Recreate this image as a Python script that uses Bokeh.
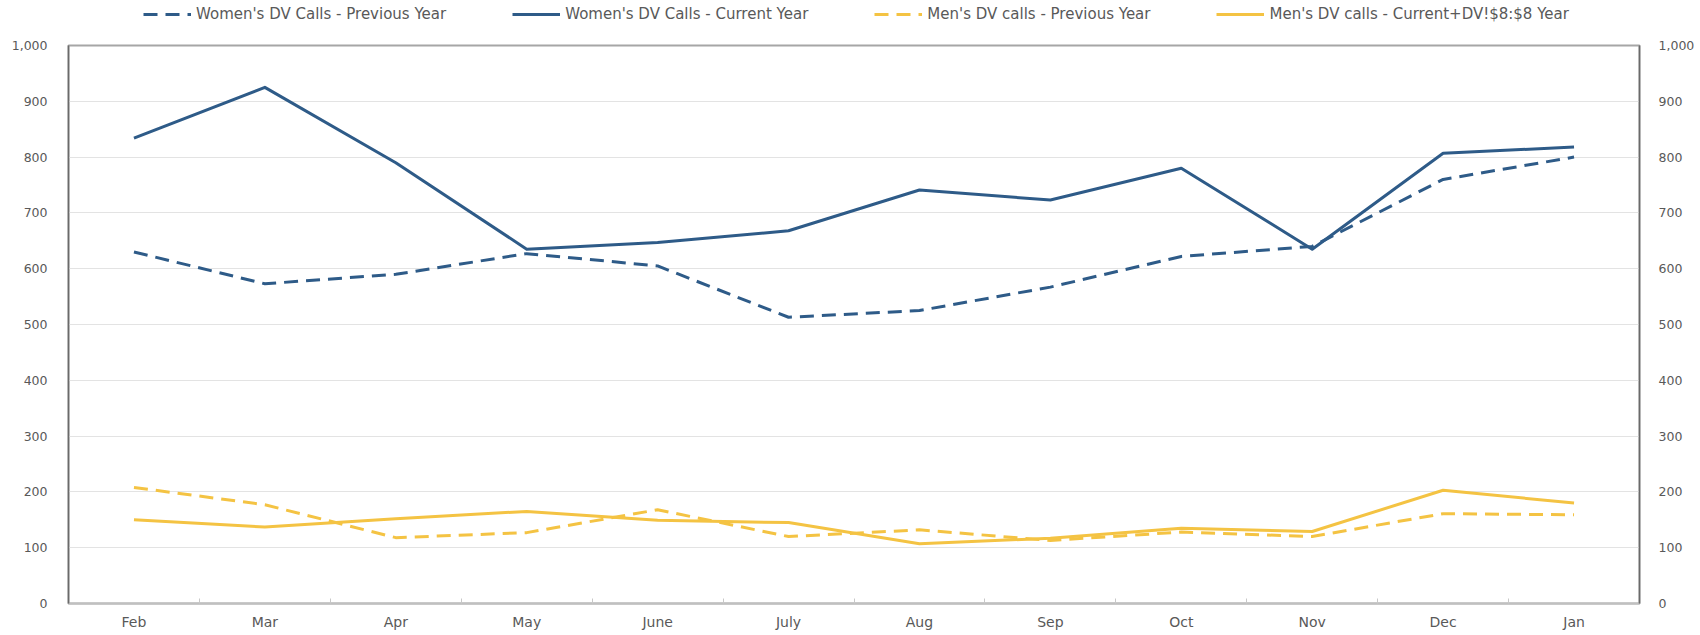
from bokeh.plotting import figure
from bokeh.layouts import column
from bokeh.models import (Range1d, LinearAxis, FixedTicker, NumeralTickFormatter,
                          Legend, LegendItem, ColumnDataSource)
from bokeh.embed import file_html
from bokeh.resources import INLINE

months = ["Feb", "Mar", "Apr", "May", "June", "July", "Aug", "Sep", "Oct", "Nov", "Dec", "Jan"]
women_prev = [630, 573, 590, 627, 605, 513, 525, 567, 622, 640, 760, 800]
women_curr = [834, 925, 790, 635, 647, 668, 741, 723, 780, 635, 807, 818]
men_prev = [208, 177, 118, 127, 168, 120, 132, 113, 128, 120, 161, 159]
men_curr = [150, 137, 152, 165, 149, 145, 107, 117, 135, 129, 203, 180]
y_ticks = [0, 100, 200, 300, 400, 500, 600, 700, 800, 900, 1000]
series_names = ["Women's DV Calls - Previous Year", "Women's DV Calls - Current Year",
                "Men's DV calls - Previous Year", "Men's DV calls - Current+DV!$8:$8 Year"]

BLUE = "#2E5B88"
GOLD = "#F4C343"
TXT = "#595959"
FONT = "DejaVu Sans"
LEG_H = 28

xs = list(range(len(months)))
src = ColumnDataSource(dict(x=xs, wp=women_prev, wc=women_curr, mp=men_prev, mc=men_curr))

p = figure(width=1700, height=635 - LEG_H, output_backend="svg", toolbar_location=None,
           x_range=Range1d(-0.5, len(months) - 0.5), y_range=Range1d(0, 1000),
           min_border_left=68, min_border_right=61, min_border_top=45 - LEG_H,
           min_border_bottom=32)
p.background_fill_color = "white"
p.border_fill_color = "white"
p.outline_line_color = "#A6A6A6"
p.outline_line_width = 2

# grid
p.xgrid.grid_line_color = None
p.ygrid.ticker = FixedTicker(ticks=y_ticks[1:-1])
p.ygrid.grid_line_color = "#E3E3E3"
p.ygrid.grid_line_width = 1

# x axis
xa = p.xaxis[0]
xa.ticker = FixedTicker(ticks=xs, minor_ticks=[i + 0.5 for i in xs[:-1]])
xa.major_label_overrides = {i: m for i, m in enumerate(months)}
xa.major_tick_line_color = None
xa.minor_tick_in = 5
xa.minor_tick_out = 0
xa.minor_tick_line_color = "#C8C8C8"
xa.minor_tick_line_width = 1
xa.axis_line_color = "#C0C0C0"
xa.axis_line_width = 2
xa.major_label_standoff = 4
xa.major_label_text_font = FONT
xa.major_label_text_font_size = "14px"
xa.major_label_text_color = TXT

# y axes
ya = p.yaxis[0]
yr = LinearAxis()
p.add_layout(yr, "right")
for ax in (ya, yr):
    ax.ticker = FixedTicker(ticks=y_ticks)
    ax.formatter = NumeralTickFormatter(format="0,0")
    ax.major_tick_line_color = None
    ax.minor_tick_line_color = None
    ax.axis_line_color = "#6A6A6A"
    ax.axis_line_width = 1.5
    ax.major_label_text_font = FONT
    ax.major_label_text_font_size = "12.5px"
    ax.major_label_text_color = TXT
ya.major_label_standoff = 15
yr.major_label_standoff = 13

# lines
styles = [dict(color=BLUE, line_dash="14 8"), dict(color=BLUE, line_dash="solid"),
          dict(color=GOLD, line_dash="14 8"), dict(color=GOLD, line_dash="solid")]
cols = ["wp", "wc", "mp", "mc"]
for c, st in zip(cols, styles):
    p.line("x", c, source=src, line_width=3, line_join="round", **st)

# legend strip: a separate figure (frame aligned with the main plot's frame);
# its swatch renderers use the same data but fall outside its ranges
pl = figure(width=1700, height=LEG_H, output_backend="svg", toolbar_location=None,
            x_range=Range1d(0, 1), y_range=Range1d(0, 1),
            x_axis_location=None, y_axis_location=None,
            min_border=0, outline_line_color=None)
pl.grid.visible = False
pl.border_fill_color = "white"
pl.background_fill_color = "white"
leg_renderers = [pl.line("x", c, source=src, line_width=3, **st) for c, st in zip(cols, styles)]
legend = Legend(items=[LegendItem(label=n, renderers=[r]) for n, r in zip(series_names, leg_renderers)],
                orientation="horizontal", location=(75, 5),
                padding=0, margin=0, spacing=66, glyph_width=48, glyph_height=14,
                label_standoff=5, label_text_font=FONT, label_text_font_size="15px",
                label_text_color=TXT, background_fill_alpha=0, border_line_color=None,
                label_height=14)
pl.add_layout(legend, "center")

layout = column(pl, p, spacing=0)
open("out.html", "w").write(file_html(layout, INLINE))
